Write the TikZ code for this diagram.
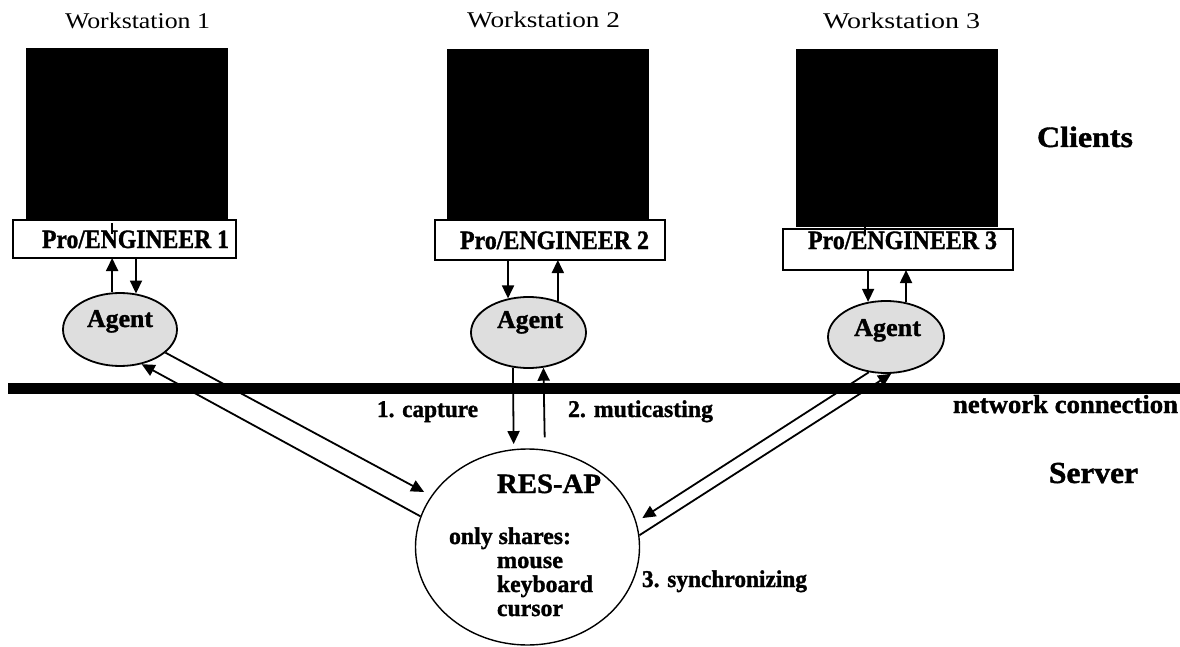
\documentclass[tikz,border=0pt]{standalone}
\usepackage{fontspec}
\setmainfont[BoldFeatures={FakeBold=1.3}]{Liberation Serif}
\usepackage{graphicx}
\usetikzlibrary{arrows.meta,shapes.geometric}
\newcommand\txt[3]{{\fontsize{#1}{#1}\selectfont\resizebox{#2pt}{\height}{#3}}}
\begin{document}
\begin{tikzpicture}[x=1pt,y=-1pt,
  lab/.style={anchor=base west, inner sep=0pt, outer sep=0pt},
  screen/.style={fill=black, draw=none, anchor=north west, inner sep=0pt, outer sep=0pt},
  pbox/.style={draw, line width=1.8pt, fill=white, anchor=north west, inner sep=0pt, outer sep=0pt},
  agent/.style={ellipse, draw, line width=1.8pt, fill=black!13, inner sep=0pt},
  server/.style={ellipse, draw, line width=1.4pt, inner sep=0pt},
  arr/.style={line width=1.8pt, -{Triangle[length=13pt,width=12pt]}},
  tick/.style={line width=1.2pt}
]
\useasboundingbox (0,0) rectangle (1180,647);

% network bar
\node[fill=black, anchor=north west, inner sep=0pt, outer sep=0pt, minimum width=1172pt, minimum height=11pt] (net) at (8,382.5) {};

% screens
\node[screen, minimum width=202pt, minimum height=175pt] (s1) at (26,48) {};
\node[screen, minimum width=202pt, minimum height=172pt] (s2) at (447,49) {};
\node[screen, minimum width=202pt, minimum height=178pt] (s3) at (796,49) {};

% Pro/ENGINEER boxes
\node[pbox, minimum width=223pt, minimum height=38pt] (b1) at (13,220) {};
\node[pbox, minimum width=230pt, minimum height=40pt] (b2) at (435,220) {};
\node[pbox, minimum width=230pt, minimum height=41pt] (b3) at (783,229) {};
\draw[tick] ([xshift=86pt]s1.south west) -- ++(0,11);
\draw[tick] ([xshift=69pt]s3.south west) -- ++(0,8);

% agents
\node[agent, minimum width=114pt, minimum height=73pt] (a1) at (120,329.5) {};
\node[agent, minimum width=115pt, minimum height=71pt] (a2) at (528.5,332.5) {};
\node[agent, minimum width=116pt, minimum height=72pt] (a3) at (886,337) {};

% server
\node[server, minimum width=224pt, minimum height=196pt] (r) at (527.5,547) {};

% box <-> agent arrows
\draw[arr] (a1.102.5) -- (a1.102.5 |- b1.south);
\draw[arr] (b1.south -| a1.66.9) -- (a1.66.9);
\draw[arr] (b2.south -| a2.121.7) -- (a2.121.7);
\draw[arr] (a2.47.2) -- (a2.47.2 |- b2.south);
\draw[arr] (b3.south -| a3.117.8) -- (a3.117.8);
\draw[arr] (a3.60.8) -- (a3.60.8 |- b3.south);

% agent <-> server arrows
\draw[arr, shorten >=5pt] (a2.-114.4) -- (r.98.5);
\draw[arr] ([yshift=12pt]r.80.9) -- (a2.-67.1);
\draw[arr, shorten >=8pt] (a1.-27.6) -- (r.152.7);
\draw[arr] (r.164.1) -- (a1.-58.7);
\draw[arr, shorten >=7pt] (a3.-116.3) -- (r.13);
\draw[arr] (r.6.7) -- (a3.-82.1);

% texts
\node[lab] (w1) at (65,29) {\txt{22.5}{145}{Workstation 1}};
\node[lab] (w2) at (467,28) {\txt{22.5}{153}{Workstation 2}};
\node[lab] (w3) at (823,29) {\txt{22.5}{157}{Workstation 3}};
\node[lab] (p1) at (42,248) {\txt{26.5}{187}{\bfseries Pro/ENGINEER 1}};
\node[lab] (p2) at (460,249) {\txt{26.5}{189}{\bfseries Pro/ENGINEER 2}};
\node[lab] (p3) at (808,249) {\txt{26.5}{189}{\bfseries Pro/ENGINEER 3}};
\node[lab] (t1) at (87,327) {\txt{25.5}{66}{\bfseries Agent}};
\node[lab] (t2) at (497,328) {\txt{25.5}{66}{\bfseries Agent}};
\node[lab] (t3) at (854,336) {\txt{25.5}{67}{\bfseries Agent}};
\node[lab] (clients) at (1037,147) {\txt{29.5}{96}{\bfseries Clients}};
\node[lab] (server) at (1049,483) {\txt{30.5}{89}{\bfseries Server}};
\node[lab] (netlab) at (953,413) {\txt{26}{225}{\bfseries network connection}};
\node[lab] (cap) at (377,417) {\txt{24}{101}{\bfseries 1. capture}};
\node[lab] (mul) at (568,417) {\txt{24}{145}{\bfseries 2. muticasting}};
\node[lab] (syn) at (642,587) {\txt{24}{165}{\bfseries 3. synchronizing}};
\node[lab] (res) at (497,493) {\txt{28}{104}{\bfseries RES-AP}};
\node[lab] (only) at (449,544) {\txt{24}{122}{\bfseries only shares:}};
\node[lab] (mouse) at (497,568) {\txt{24}{66}{\bfseries mouse}};
\node[lab] (kb) at (497,592) {\txt{24}{96}{\bfseries keyboard}};
\node[lab] (cur) at (497,616) {\txt{24}{66}{\bfseries cursor}};
\end{tikzpicture}
\end{document}
